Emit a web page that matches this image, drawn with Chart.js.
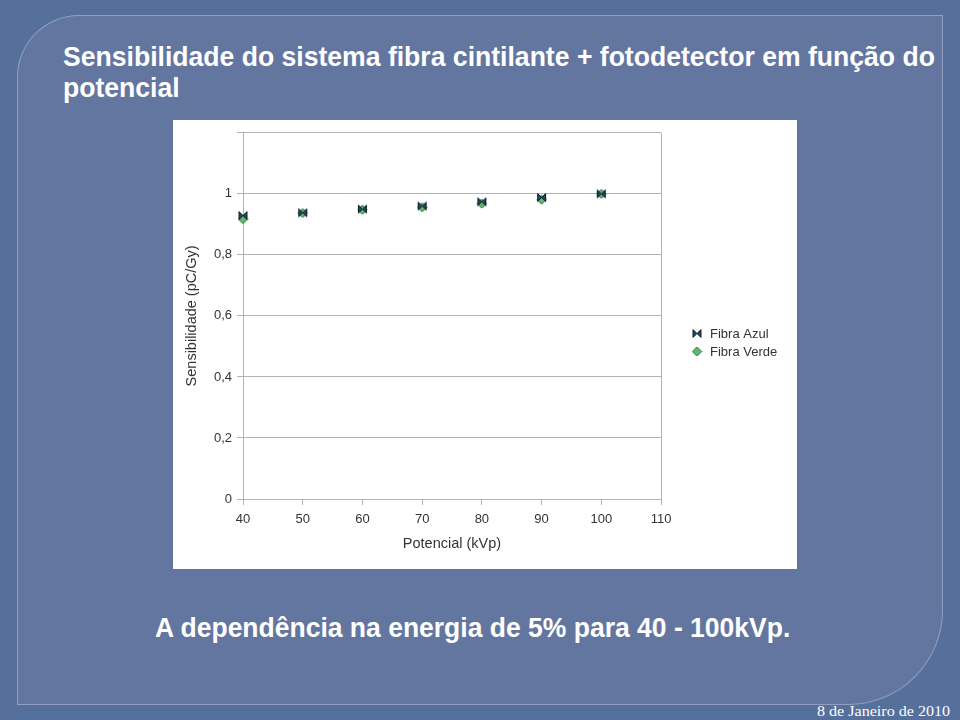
<!DOCTYPE html>
<html>
<head>
<meta charset="utf-8">
<script src="https://cdn.jsdelivr.net/npm/chart.js@4"></script>
<style>
  html, body { margin: 0; padding: 0; }
  body { width: 960px; height: 720px; background: #56709c; position: relative; overflow: hidden; font-family: "Liberation Sans", Arial, sans-serif; }
  #panel { position: absolute; left: 17px; top: 15px; width: 924px; height: 688px; background: #63769f;
    border: 1px solid rgba(200, 210, 235, 0.45); border-radius: 62px 0 95px 0; }
  .txt { position: absolute; color: #fff; white-space: nowrap; transform-origin: 0 0; }
  .big { font-weight: bold; font-size: 27px; line-height: 27px; }
  #date { font-family: "Liberation Serif", serif; font-size: 15px; line-height: 15px; }
  #box { position: absolute; left: 173px; top: 120px; width: 624px; height: 449px; background: #fff; }
</style>
</head>
<body>
<div id="panel"></div>
<div class="txt big" id="t1" style="left:63px; top:44px;">Sensibilidade do sistema fibra cintilante + fotodetector em função do</div>
<div class="txt big" id="t2" style="left:63px; top:75px;">potencial</div>
<div id="box"><canvas id="chart" width="624" height="449"></canvas></div>
<div class="txt big" id="cap" style="left:155px; top:615px;">A dependência na energia de 5% para 40 - 100kVp.</div>
<div class="txt" id="date" style="left:817px; top:704px;">8 de Janeiro de 2010</div>
<script>
// data
const potencial = [40, 50, 60, 70, 80, 90, 100];
const fibraAzul = [0.929, 0.938, 0.950, 0.960, 0.974, 0.988, 1.0];
const fibraVerde = [0.917, 0.937, 0.948, 0.956, 0.968, 0.981, 1.0];
const seriesNames = ['Fibra Azul', 'Fibra Verde'];
const yTicks = [0, 0.2, 0.4, 0.6, 0.8, 1];

// squeeze text to the widths seen on the slide
function fit(id, w) {
  const el = document.getElementById(id);
  el.style.transform = 'scaleX(' + (w / el.offsetWidth) + ')';
}
fit('t1', 872);
fit('cap', 635);
fit('date', 133);
document.getElementById('t2').style.transform = document.getElementById('t1').style.transform;

// marker images
function bowtie() {
  const c = document.createElement('canvas');
  c.width = 11; c.height = 11;
  const g = c.getContext('2d');
  g.beginPath();
  g.moveTo(1.5, 1.5); g.lineTo(5.5, 5.5); g.lineTo(1.5, 9.5); g.closePath();
  g.moveTo(9.5, 1.5); g.lineTo(5.5, 5.5); g.lineTo(9.5, 9.5); g.closePath();
  g.fillStyle = '#24465a';
  g.fill();
  g.strokeStyle = '#10222e';
  g.lineWidth = 1;
  g.stroke();
  return c;
}
function diamond() {
  const c = document.createElement('canvas');
  c.width = 11; c.height = 11;
  const g = c.getContext('2d');
  g.beginPath();
  g.moveTo(5.5, 1); g.lineTo(10, 5.5); g.lineTo(5.5, 10); g.lineTo(1, 5.5); g.closePath();
  g.fillStyle = '#5cbd6a';
  g.fill();
  g.strokeStyle = '#2b5e36';
  g.lineWidth = 1;
  g.stroke();
  return c;
}
const markAzul = bowtie();
const markVerde = diamond();

function toPoints(xs, ys) {
  return xs.map((x, i) => ({x: x, y: ys[i]}));
}

// legend at the right of the plot
const sideLegend = {
  id: 'sideLegend',
  afterDraw(chart) {
    const ctx = chart.ctx;
    ctx.save();
    ctx.font = '13px "Liberation Sans", Arial, sans-serif';
    ctx.fillStyle = '#333';
    ctx.textBaseline = 'middle';
    chart.data.datasets.forEach((ds, i) => {
      const y = 214 + i * 18;
      ctx.drawImage(ds.pointStyle, 524 - 5.5, y - 6);
      ctx.fillText(ds.label, 537, y);
    });
    ctx.restore();
  }
};

const grey = '#b3b3b3';
const axisFont = { size: 14.5, family: '"Liberation Sans", Arial' };
new Chart(document.getElementById('chart'), {
  type: 'scatter',
  data: {
    datasets: [
      { label: seriesNames[0], data: toPoints(potencial, fibraAzul), pointStyle: markAzul, clip: false },
      { label: seriesNames[1], data: toPoints(potencial, fibraVerde), pointStyle: markVerde, clip: false }
    ]
  },
  options: {
    responsive: false,
    animation: false,
    devicePixelRatio: 1,
    layout: { padding: { top: 10, right: 136, left: 0, bottom: 0 } },
    plugins: { legend: { display: false }, tooltip: { enabled: false } },
    scales: {
      x: {
        type: 'linear', min: 40, max: 110,
        afterFit(s) { s.height = 70; },
        ticks: { stepSize: 10, color: '#333', padding: 7, font: { size: 13, family: '"Liberation Sans", Arial' } },
        grid: { color: ctx => ctx.tick && ctx.tick.value === 110 ? grey : 'rgba(0,0,0,0)', tickColor: grey, tickLength: 6, lineWidth: 1 },
        border: { color: grey },
        title: { display: true, text: 'Potencial (kVp)', color: '#333', font: axisFont, padding: { top: 0, bottom: 16 } }
      },
      y: {
        min: 0, max: 1.2,
        afterFit(s) { s.width = 70; },
        afterBuildTicks(s) { s.ticks = yTicks.concat([1.2]).map(v => ({ value: v })); },
        ticks: {
          color: '#333', padding: 5, font: { size: 13, family: '"Liberation Sans", Arial' },
          callback: v => (yTicks.some(t => Math.abs(t - v) < 1e-9) ? String(+v.toFixed(1)).replace('.', ',') : '')
        },
        grid: { color: grey, tickColor: grey, tickLength: 6, lineWidth: 1 },
        border: { color: grey },
        title: { display: true, text: 'Sensibilidade (pC/Gy)', color: '#333', font: axisFont, padding: { top: 10, bottom: 0 } }
      }
    }
  },
  plugins: [sideLegend]
});
</script>
</body>
</html>
